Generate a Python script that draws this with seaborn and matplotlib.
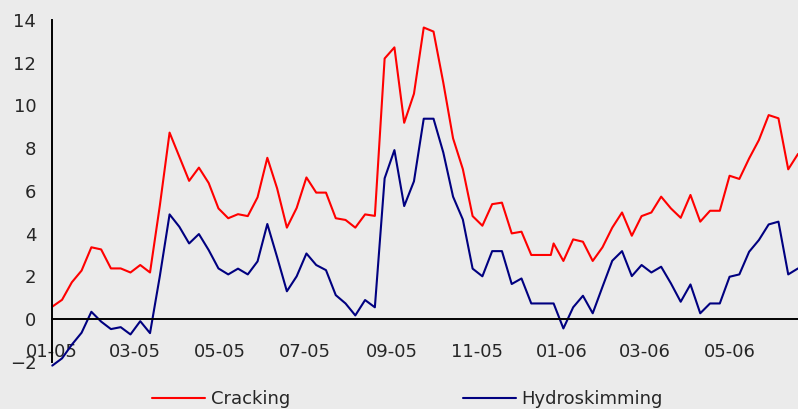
import numpy as np
import pandas as pd
import matplotlib
matplotlib.use("Agg")
import matplotlib.pyplot as plt
import seaborn as sns

# weekly margins: Fridays in 2005, Sundays in 2006
dates_2005 = pd.date_range("2005-01-07", periods=52, freq="7D")
dates_2006 = pd.date_range("2006-01-01", "2006-06-25", freq="7D")

cracking_2005 = [0.58, 0.90, 1.72, 2.27, 3.36, 3.26, 2.37, 2.37, 2.18, 2.53, 2.18, 5.3,
                 8.73, 7.6, 6.47, 7.09, 6.37, 5.18, 4.72, 4.91, 4.82, 5.70, 7.55, 6.12,
                 4.28, 5.20, 6.63, 5.92, 5.92, 4.72, 4.64, 4.28, 4.90, 4.83, 12.2, 12.72,
                 9.19, 10.55, 13.65, 13.46, 11.07, 8.46, 7.02, 4.82, 4.37, 5.38, 5.45, 4.01,
                 4.09, 3.00, 3.00, 3.00]
cracking_2006 = [3.54, 2.72, 3.73, 3.62, 2.72, 3.36, 4.28, 4.99, 3.90, 4.82, 4.99, 5.73,
                 5.18, 4.74, 5.81, 4.56, 5.07, 5.07, 6.71, 6.56, 7.52, 8.38, 9.55, 9.40,
                 7.01, 7.73]

hydro_2005 = [-2.18, -1.84, -1.2, -0.64, 0.34, -0.12, -0.47, -0.38, -0.72, -0.10, -0.66, 2.0,
              4.90, 4.32, 3.54, 3.98, 3.23, 2.37, 2.09, 2.36, 2.09, 2.70, 4.45, 2.90,
              1.30, 2.00, 3.07, 2.53, 2.29, 1.12, 0.73, 0.17, 0.89, 0.55, 6.59, 7.91,
              5.29, 6.45, 9.38, 9.38, 7.80, 5.73, 4.66, 2.36, 2.00, 3.18, 3.18, 1.64,
              1.90, 0.73, 0.73, 0.73]
hydro_2006 = [0.73, -0.44, 0.55, 1.09, 0.27, 1.51, 2.73, 3.18, 2.01, 2.53, 2.18, 2.45,
              1.67, 0.81, 1.62, 0.27, 0.73, 0.73, 1.98, 2.09, 3.15, 3.70, 4.43, 4.56,
              2.09, 2.37]

dates = dates_2005.append(dates_2006)
df = pd.DataFrame({"date": dates,
                   "Cracking": cracking_2005 + cracking_2006,
                   "Hydroskimming": hydro_2005 + hydro_2006})

bg = "#EBEBEB"
sns.set_style("white", {"axes.facecolor": bg, "figure.facecolor": bg})
plt.rcParams["font.family"] = ["DejaVu Sans"]

fig = plt.figure(figsize=(7.98, 4.09), dpi=100)
ax = fig.add_axes([0.0655, 0.1155, 0.9345, 0.8355])

sns.lineplot(data=df, x="date", y="Cracking", color="#FF0000", lw=1.5, label="Cracking", ax=ax)
sns.lineplot(data=df, x="date", y="Hydroskimming", color="#000080", lw=1.5, label="Hydroskimming", ax=ax)
for ln in ax.get_lines():
    ln.set_clip_on(False)

ax.set_ylim(-2, 14)
ax.set_yticks(range(-2, 15, 2))
ax.set_xlim(pd.Timestamp("2005-01-07"), pd.Timestamp("2006-06-25"))
xticks = [pd.Timestamp("2005-01-07") + pd.DateOffset(months=2 * k) for k in range(9)]
ax.set_xticks(xticks)
ax.set_xticklabels([d.strftime("%m-%y") for d in xticks])
ax.set_xlabel("")
ax.set_ylabel("")

for s in ["top", "right"]:
    ax.spines[s].set_visible(False)
ax.spines["bottom"].set_position(("data", 0))
for s in ["bottom", "left"]:
    ax.spines[s].set_linewidth(1.4)
    ax.spines[s].set_color("black")

ax.tick_params(axis="x", direction="out", length=4.5, width=1.4, pad=13, labelsize=13)
ax.tick_params(axis="y", direction="out", length=4, width=1.4, pad=7.5, labelsize=13)

handles, labels = ax.get_legend_handles_labels()
ax.get_legend().remove()
fig.legend(handles, labels, loc="center", bbox_to_anchor=(0.511, 0.0244), ncol=2,
           frameon=False, fontsize=13, handlelength=2.9, handletextpad=0.33,
           columnspacing=9.6, borderpad=0, borderaxespad=0)

fig.savefig("out.png", dpi=100, facecolor=bg)
